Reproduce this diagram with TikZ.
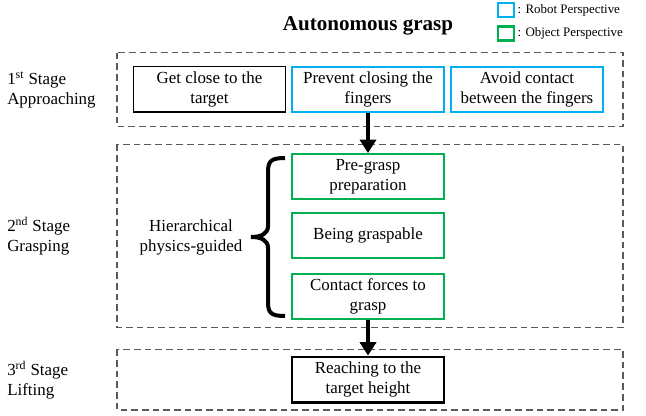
\documentclass[tikz,border=0pt]{standalone}
\usepackage{fontspec}
\setmainfont{Liberation Serif}
\usetikzlibrary{arrows.meta}
\definecolor{robotblue}{RGB}{0,176,240}
\definecolor{objectgreen}{RGB}{0,176,80}
\definecolor{dashgray}{RGB}{90,90,90}

\begin{document}
\begin{tikzpicture}[x=0.75pt,y=-0.75pt,
	taskbox/.style={draw,minimum width=114pt,minimum height=34pt,inner sep=0pt,align=center,font=\fontsize{12.7}{15}\selectfont},
	stagebox/.style={draw=dashgray,line width=1pt,dash pattern=on 5pt off 3pt},
	stagelabel/.style={anchor=west,inner sep=0pt,align=left,font=\fontsize{12.7}{15}\selectfont},
	keybox/.style={minimum width=12pt,minimum height=10.5pt,inner sep=0pt,line width=2pt},
	flow/.style={line width=3pt,-{Triangle[width=12pt,length=10pt]}}]

\useasboundingbox (0,0) rectangle (646,416);

% title and legend
\node[font=\fontsize{15.8}{18}\selectfont\bfseries] (title) at (368,26) {Autonomous grasp};
\node[keybox,draw=robotblue] (robotkey) at (506,10) {};
\node[keybox,draw=objectgreen] (objectkey) at (506,33.5) {};
\node[anchor=west,inner sep=1.5pt,font=\fontsize{9.7}{11}\selectfont] (robottext) at (robotkey.east) {: Robot Perspective};
\node[anchor=west,inner sep=1.5pt,font=\fontsize{9.7}{11}\selectfont] (objecttext) at (objectkey.east) {: Object Perspective};

% dashed stage frames
\foreach \top/\bot in {52.7/126.7,144.5/327.5,349.5/410} {
	\draw[stagebox] (117,\top) rectangle (623,\bot);
}

\node[stagelabel] (stageone) at (7,89.7) {1\textsuperscript{st} Stage\\Approaching};
\node[stagelabel] (stagetwo) at (7,236) {2\textsuperscript{nd} Stage\\Grasping};
\node[stagelabel] (stagethree) at (7,380) {3\textsuperscript{rd} Stage\\Lifting};

% 1st stage
\node[taskbox,line width=1pt] (close) at (209.5,89.5) {Get close to the\\target};
\node[taskbox,draw=robotblue,line width=1.5pt] (prevent) at (368,89.5) {Prevent closing the\\fingers};
\node[taskbox,draw=robotblue,line width=1.5pt] (avoid) at (527,89.5) {Avoid contact\\between the fingers};

% 2nd stage
\node[taskbox,draw=objectgreen,line width=1.5pt] (pregrasp) at (368,176.7) {Pre-grasp\\preparation};
\node[taskbox,draw=objectgreen,line width=1.5pt] (graspable) at (368,235.5) {Being graspable};
\node[taskbox,draw=objectgreen,line width=1.5pt] (contact) at (368,296.3) {Contact forces to\\grasp};
\node[align=center,font=\fontsize{12.7}{15}\selectfont] (hierarchy) at (191,237) {Hierarchical\\physics-guided};
\draw[line width=3pt] (285,158) .. controls (271,158) and (268,161) .. (268,172) -- (268,226) .. controls (268,234) and (261,237) .. (251,237) .. controls (261,237) and (268,240) .. (268,248) -- (268,302) .. controls (268,313) and (271,316) .. (285,316);

% 3rd stage
\node[taskbox,line width=2.2pt] (reach) at (368,379.7) {Reaching to the\\target height};

\draw[flow] (prevent.south) -- (pregrasp.north);
\draw[flow] (contact.south) -- (reach.north);

\end{tikzpicture}
\end{document}
